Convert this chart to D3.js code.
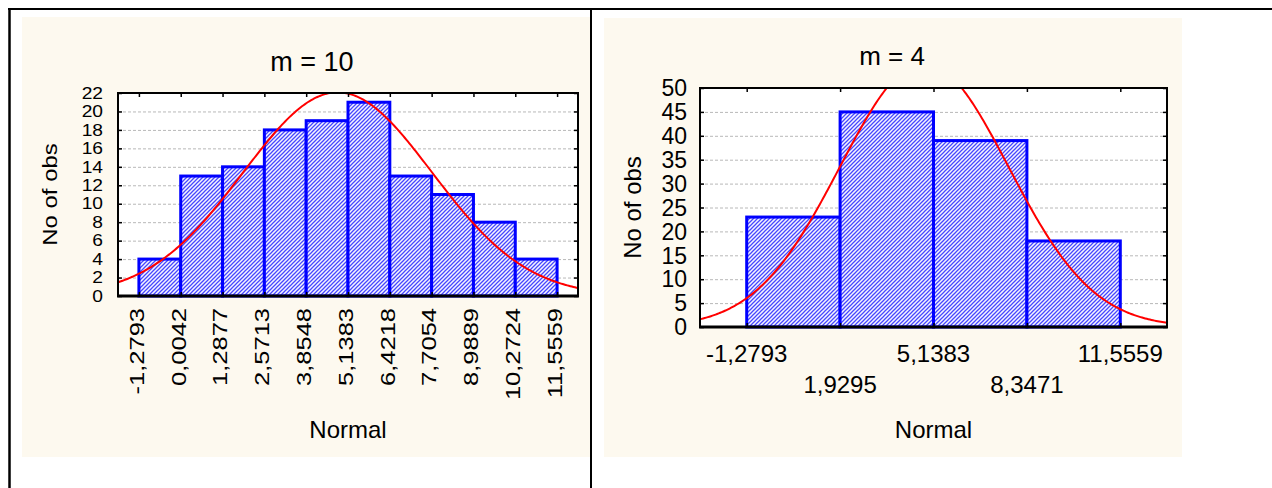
<!DOCTYPE html>
<html>
<head>
<meta charset="utf-8">
<script src="https://cdn.jsdelivr.net/npm/d3@7"></script>
<style>
  html, body { margin: 0; padding: 0; background: #ffffff; }
  svg { display: block; font-family: Arial, "Liberation Sans", sans-serif; }
</style>
</head>
<body>
<svg id="chart" width="1272" height="488"></svg>
<script>
// ---------- DATA ----------
const leftTitle = "m = 10";
const leftEdges = [-1.2793, 0.0042, 1.2877, 2.5713, 3.8548, 5.1383, 6.4218, 7.7054, 8.9889, 10.2724, 11.5559];
const leftEdgeLabels = ["-1,2793", "0,0042", "1,2877", "2,5713", "3,8548", "5,1383", "6,4218", "7,7054", "8,9889", "10,2724", "11,5559"];
const leftCounts = [4, 13, 14, 18, 19, 21, 13, 11, 8, 4];
const leftYTicks = [0, 2, 4, 6, 8, 10, 12, 14, 16, 18, 20, 22];

const rightTitle = "m = 4";
const rightEdges = [-1.2793, 1.9295, 5.1383, 8.3471, 11.5559];
const rightEdgeLabels = ["-1,2793", "1,9295", "5,1383", "8,3471", "11,5559"];
const rightCounts = [23, 45, 39, 18];
const rightYTicks = [0, 5, 10, 15, 20, 25, 30, 35, 40, 45, 50];

const yAxisTitle = "No of obs";
const xAxisTitle = "Normal";
// fitted normal distribution parameters
const normalMean = 4.82;
const normalSd = 2.9;

// ---------- DRAWING ----------
const svg = d3.select("#chart");
const cream = "#fdf9ef";
const blue = "#0000ff";

// hatch pattern
const defs = svg.append("defs");
const pat = defs.append("pattern")
  .attr("id", "hatch").attr("patternUnits", "userSpaceOnUse")
  .attr("width", 4).attr("height", 4);
pat.append("rect").attr("width", 4).attr("height", 4).attr("fill", "#f4f4ff");
pat.append("path").attr("d", "M-1,1 l2,-2 M0,4 l4,-4 M3,5 l2,-2")
  .attr("stroke", "#4646ff").attr("stroke-width", 1.25);

// panel backgrounds
svg.append("rect").attr("x", 22).attr("y", 17).attr("width", 580).attr("height", 440).attr("fill", cream);
svg.append("rect").attr("x", 604).attr("y", 18).attr("width", 578).attr("height", 439).attr("fill", cream);
svg.append("rect").attr("x", 592).attr("y", 10).attr("width", 12).attr("height", 478).attr("fill", "#ffffff");

// table borders
svg.append("line").attr("x1", 8).attr("x2", 1272).attr("y1", 9).attr("y2", 9).attr("stroke", "#000").attr("stroke-width", 2);
svg.append("line").attr("x1", 9.5).attr("x2", 9.5).attr("y1", 8).attr("y2", 488).attr("stroke", "#000").attr("stroke-width", 2.5);
svg.append("line").attr("x1", 591).attr("x2", 591).attr("y1", 8).attr("y2", 488).attr("stroke", "#000").attr("stroke-width", 2);

function drawPanel(cfg) {
  const edges = cfg.edges, counts = cfg.counts;
  const binW = edges[1] - edges[0];
  const x = d3.scaleLinear()
    .domain([edges[0] - binW / 2, edges[edges.length - 1] + binW / 2])
    .range([cfg.left, cfg.right]);
  const yMax = cfg.yTicks[cfg.yTicks.length - 1];
  const y = d3.scaleLinear().domain([0, yMax]).range([cfg.bottom, cfg.top]);
  const g = svg.append("g");

  g.append("rect").attr("x", cfg.left).attr("y", cfg.top)
    .attr("width", cfg.right - cfg.left).attr("height", cfg.bottom - cfg.top).attr("fill", "#fff");

  // gridlines
  g.append("g").selectAll("line").data(cfg.yTicks.filter(t => t > 0 && t < yMax)).join("line")
    .attr("x1", cfg.left).attr("x2", cfg.right)
    .attr("y1", d => y(d) + 0.5).attr("y2", d => y(d) + 0.5)
    .attr("stroke", "#b8b8b8").attr("stroke-width", 1).attr("stroke-dasharray", "3,2");

  // bars
  const bins = counts.map((c, i) => ({ x0: edges[i], x1: edges[i + 1], c }));
  g.append("g").selectAll("rect").data(bins).join("rect")
    .attr("x", d => x(d.x0)).attr("y", d => y(d.c))
    .attr("width", d => x(d.x1) - x(d.x0)).attr("height", d => y(0) - y(d.c))
    .attr("fill", "url(#hatch)").attr("stroke", blue).attr("stroke-width", 3);

  // fitted normal curve
  const n = d3.sum(counts);
  const clipId = "clip" + cfg.id;
  defs.append("clipPath").attr("id", clipId).append("rect")
    .attr("x", cfg.left).attr("y", cfg.top).attr("width", cfg.right - cfg.left).attr("height", cfg.bottom - cfg.top);
  const dens = v => n * binW / (normalSd * Math.sqrt(2 * Math.PI)) *
    Math.exp(-((v - normalMean) ** 2) / (2 * normalSd * normalSd));
  const xs = d3.range(0, 301).map(i => x.invert(cfg.left + (cfg.right - cfg.left) * i / 300));
  g.append("path").datum(xs)
    .attr("clip-path", `url(#${clipId})`)
    .attr("d", d3.line().x(d => x(d)).y(d => y(dens(d))))
    .attr("fill", "none").attr("stroke", "#ff0000").attr("stroke-width", 2);

  // axes with inside ticks
  const tickLen = 4;
  const axL = d3.axisLeft(y).tickValues(cfg.yTicks).tickSize(-tickLen).tickFormat("");
  const axR = d3.axisRight(y).tickValues(cfg.yTicks).tickSize(-tickLen).tickFormat("");
  const axT = d3.axisTop(x).tickValues(edges).tickSize(-tickLen).tickFormat("");
  const axB = d3.axisBottom(x).tickValues(edges).tickSize(-tickLen).tickFormat("");
  [[axL, `translate(${cfg.left},0)`], [axR, `translate(${cfg.right},0)`],
   [axT, `translate(0,${cfg.top})`], [axB, `translate(0,${cfg.bottom})`]].forEach(([ax, tr]) => {
    const a = g.append("g").attr("transform", tr).call(ax);
    a.select(".domain").remove();
    a.selectAll(".tick line").attr("stroke", "#000").attr("stroke-width", 1.5);
  });
  g.append("rect").attr("x", cfg.left).attr("y", cfg.top)
    .attr("width", cfg.right - cfg.left).attr("height", cfg.bottom - cfg.top)
    .attr("fill", "none").attr("stroke", "#000").attr("stroke-width", 2);
  g.append("line").attr("x1", cfg.left - 1).attr("x2", cfg.right + 1)
    .attr("y1", cfg.bottom).attr("y2", cfg.bottom).attr("stroke", "#000").attr("stroke-width", 3);

  // y tick labels
  g.append("g").selectAll("text").data(cfg.yTicks).join("text")
    .attr("transform", d => `translate(${cfg.left - cfg.yLabelGap},${y(d)}) scale(${cfg.yTickStretch},1)`)
    .attr("dy", "0.36em")
    .attr("text-anchor", "end").attr("font-size", cfg.yTickFont).attr("fill", "#000")
    .text(d => d);

  // x tick labels
  if (cfg.rotated) {
    g.append("g").selectAll("text").data(edges).join("text")
      .attr("transform", d => `translate(${x(d)},${cfg.bottom + 12}) rotate(-90) scale(1,0.8)`)
      .attr("dy", 6).attr("text-anchor", "end").attr("font-size", 25.5).attr("fill", "#000")
      .text((d, i) => cfg.labels[i]);
  } else {
    g.append("g").selectAll("text").data(edges).join("text")
      .attr("x", d => x(d)).attr("y", (d, i) => i % 2 === 0 ? 362 : 393)
      .attr("text-anchor", "middle").attr("font-size", 24).attr("fill", "#000")
      .text((d, i) => cfg.labels[i]);
  }

  // titles
  g.append("text").attr("x", cfg.titleX).attr("y", cfg.titleY)
    .attr("text-anchor", "middle").attr("font-size", cfg.titleFont).attr("fill", "#000").text(cfg.title);
  g.append("text").attr("x", (cfg.left + cfg.right) / 2).attr("y", 438)
    .attr("text-anchor", "middle").attr("font-size", 24).attr("fill", "#000").text(xAxisTitle);
  g.append("text")
    .attr("transform", `translate(${cfg.yTitleX},${(cfg.top + cfg.bottom) / 2}) rotate(-90) scale(1,${cfg.yTitleScale})`)
    .attr("dy", "0.35em").attr("text-anchor", "middle").attr("font-size", 24).attr("fill", "#000").text(yAxisTitle);
}

drawPanel({
  id: "L", edges: leftEdges, labels: leftEdgeLabels, counts: leftCounts, yTicks: leftYTicks,
  left: 118, right: 578, top: 93, bottom: 296, yLabelGap: 15, yTickFont: 16, yTickStretch: 1.2,
  rotated: true, title: leftTitle, titleX: 312, titleY: 71, titleFont: 27,
  yTitleX: 50, yTitleScale: 0.85
});
drawPanel({
  id: "R", edges: rightEdges, labels: rightEdgeLabels, counts: rightCounts, yTicks: rightYTicks,
  left: 700, right: 1167, top: 88, bottom: 327, yLabelGap: 13, yTickFont: 23, yTickStretch: 1,
  rotated: false, title: rightTitle, titleX: 892, titleY: 65, titleFont: 26,
  yTitleX: 633, yTitleScale: 1
});
</script>
</body>
</html>
